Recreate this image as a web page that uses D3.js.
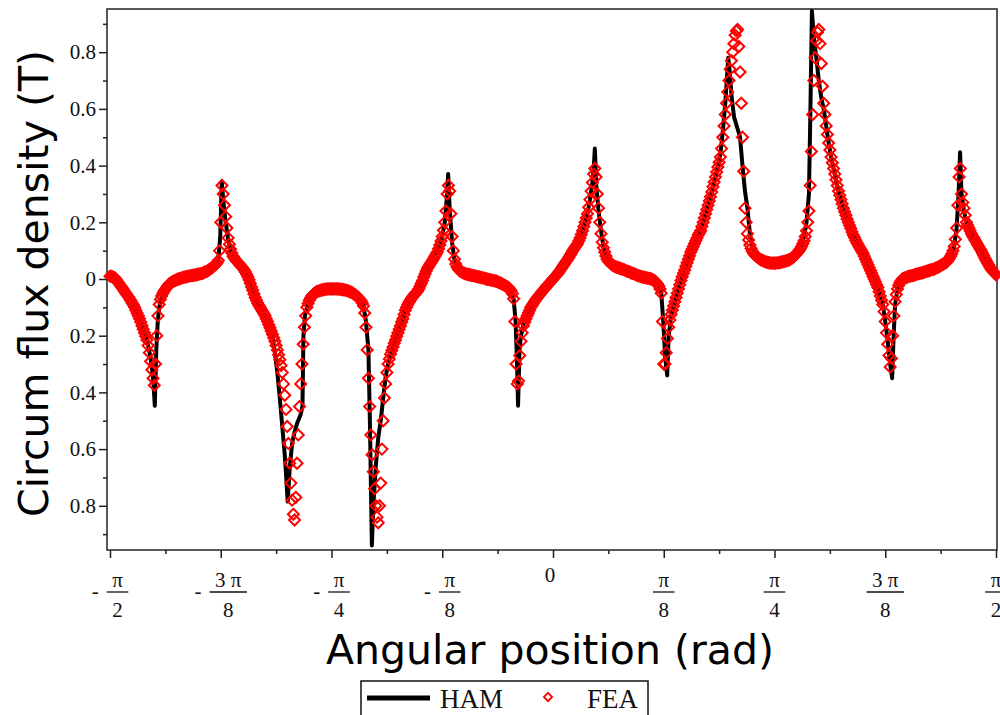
<!DOCTYPE html>
<html lang="en">
<head>
<meta charset="UTF-8">
<title>Circum flux density</title>
<script src="https://d3js.org/d3.v7.min.js"></script>
<style>
  body { margin: 0; background: #fff; }
  svg { display: block; }
</style>
</head>
<body>
<svg id="chart" width="1000" height="715"></svg>
<script>
// HAM solution, [angle in degrees, B in tesla]
const ham = [
  [-90, 0.01], [-89, 0.004], [-88, -0.02], [-87, -0.045], [-86, -0.07], [-85, -0.1], [-84, -0.14],
  [-83, -0.19], [-82.5, -0.215], [-82, -0.255], [-81.5, -0.31], [-81.2, -0.36], [-80.9, -0.447],
  [-80.6, -0.25], [-80.3, -0.15], [-80, -0.1], [-79.5, -0.065], [-79, -0.045], [-78, -0.02],
  [-77, -0.008], [-76, 0.0], [-75, 0.006], [-74, 0.01], [-73, 0.013], [-72, 0.017], [-71, 0.022],
  [-70, 0.031], [-69, 0.044], [-68.5, 0.052], [-68, 0.068], [-67.6, 0.15], [-67.3, 0.345],
  [-67, 0.28], [-66.5, 0.2], [-66, 0.14], [-65.5, 0.1], [-65, 0.08], [-64, 0.058], [-63, 0.038],
  [-62.5, 0.025], [-62, 0.008], [-61, -0.04], [-60, -0.085], [-59, -0.115], [-58, -0.15],
  [-57, -0.2], [-56.5, -0.26], [-56, -0.33], [-55.5, -0.42], [-55, -0.52], [-54.5, -0.62],
  [-54.2, -0.7], [-53.9, -0.785], [-53.5, -0.67], [-53, -0.58], [-52.5, -0.54], [-52, -0.51],
  [-51.3, -0.48], [-50.9, -0.45], [-50.7, -0.2], [-50.4, -0.13], [-50, -0.1], [-49.5, -0.075],
  [-49, -0.06], [-48, -0.045], [-47, -0.039], [-46, -0.036], [-45, -0.035], [-44, -0.035],
  [-43, -0.037], [-42, -0.04], [-41, -0.047], [-40, -0.058], [-39, -0.077], [-38.5, -0.095],
  [-38, -0.15], [-37.5, -0.25], [-37.2, -0.5], [-36.8, -0.94], [-36.5, -0.8], [-36, -0.66],
  [-35.5, -0.56], [-35, -0.5], [-34.5, -0.42], [-34, -0.345], [-33.5, -0.3], [-33, -0.265],
  [-32, -0.215], [-31, -0.165], [-30, -0.11], [-29, -0.075], [-28, -0.052], [-27.5, -0.042],
  [-27, -0.025], [-26, 0.018], [-25, 0.052], [-24, 0.08], [-23, 0.12], [-22.5, 0.15], [-22, 0.2],
  [-21.6, 0.28], [-21.3, 0.37], [-21, 0.25], [-20.5, 0.13], [-20, 0.065], [-19.5, 0.04],
  [-19, 0.028], [-18, 0.02], [-17, 0.015], [-16, 0.011], [-15, 0.007], [-14, 0.003], [-13, -0.002],
  [-12, -0.006], [-11, -0.012], [-10, -0.021], [-9, -0.031], [-8.5, -0.042], [-8, -0.07],
  [-7.6, -0.15], [-7.3, -0.3], [-7.1, -0.447], [-6.8, -0.25], [-6.5, -0.2], [-6, -0.16],
  [-5.5, -0.14], [-5, -0.12], [-4, -0.086], [-3, -0.062], [-2, -0.04], [-1, -0.02], [0, 0.0],
  [1, 0.02], [2, 0.045], [3, 0.07], [4, 0.1], [5, 0.125], [6, 0.17], [7, 0.23], [7.5, 0.28],
  [8, 0.34], [8.3, 0.4], [8.5, 0.46], [8.8, 0.33], [9.2, 0.25], [9.6, 0.19], [10, 0.14],
  [10.5, 0.1], [11, 0.07], [12, 0.05], [13, 0.041], [14, 0.035], [15, 0.028], [16, 0.021],
  [17, 0.014], [18, 0.008], [19, 0.004], [20, 0.0], [21, -0.012], [21.5, -0.025], [22, -0.05],
  [22.4, -0.15], [22.8, -0.28], [23.2, -0.34], [23.5, -0.2], [24, -0.13], [24.5, -0.095],
  [25, -0.065], [26, -0.005], [27, 0.045], [28, 0.095], [29, 0.135], [30, 0.17], [31, 0.23],
  [32, 0.29], [33, 0.36], [34, 0.44], [34.5, 0.52], [35, 0.62], [35.3, 0.7], [35.6, 0.78],
  [35.9, 0.73], [36.3, 0.64], [36.8, 0.57], [37.5, 0.53], [38, 0.5], [38.5, 0.4], [39, 0.31],
  [39.5, 0.25], [40, 0.16], [40.5, 0.115], [41, 0.09], [42, 0.07], [43, 0.06], [44, 0.055],
  [45, 0.053], [46, 0.055], [47, 0.06], [48, 0.065], [49, 0.08], [50, 0.1], [50.5, 0.12],
  [51, 0.15], [51.5, 0.2], [52, 0.3], [52.3, 0.6], [52.6, 0.945], [53, 0.85], [53.5, 0.78],
  [54, 0.7], [54.5, 0.64], [55, 0.6], [55.5, 0.54], [56, 0.48], [56.5, 0.43], [57, 0.39],
  [58, 0.31], [59, 0.25], [60, 0.2], [61, 0.155], [62, 0.12], [63, 0.09], [64, 0.05], [65, 0.01],
  [66, -0.03], [67, -0.09], [67.5, -0.15], [68, -0.22], [68.5, -0.3], [68.9, -0.35], [69.2, -0.2],
  [69.5, -0.09], [70, -0.035], [71, 0.0], [72, 0.007], [73, 0.012], [74, 0.018], [75, 0.022],
  [76, 0.028], [77, 0.033], [78, 0.04], [79, 0.05], [80, 0.06], [81, 0.088], [81.5, 0.115],
  [82, 0.18], [82.4, 0.3], [82.7, 0.447], [83, 0.3], [83.5, 0.24], [84, 0.2], [85, 0.16],
  [86, 0.13], [87, 0.1], [88, 0.065], [89, 0.035], [90, 0.015]
];

// FEA samples, one every quarter degree starting at -90 deg (each row covers 2.5 deg)
const feaStart = -90, feaStep = 0.25;
const fea = [
  /* -90.0 */ 0.01, 0.009, 0.008, 0.006, 0.004, -0.002, -0.008, -0.014, -0.02, -0.026,
  /* -87.5 */ -0.032, -0.038, -0.045, -0.051, -0.057, -0.063, -0.07, -0.077, -0.085, -0.092,
  /* -85.0 */ -0.1, -0.11, -0.12, -0.13, -0.14, -0.152, -0.165, -0.177, -0.19, -0.202,
  /* -82.5 */ -0.215, -0.235, -0.26, -0.29, -0.32, -0.35, -0.375, -0.3, -0.2, -0.13,
  /* -80.0 */ -0.09, -0.072, -0.06, -0.05, -0.042, -0.036, -0.03, -0.024, -0.018, -0.015,
  /* -77.5 */ -0.012, -0.009, -0.007, -0.005, -0.003, -0.001, 0.0, 0.002, 0.003, 0.005,
  /* -75.0 */ 0.006, 0.007, 0.008, 0.009, 0.01, 0.011, 0.012, 0.0125, 0.013, 0.014,
  /* -72.5 */ 0.015, 0.016, 0.017, 0.018, 0.019, 0.02, 0.022, 0.024, 0.026, 0.028,
  /* -70.0 */ 0.031, 0.034, 0.037, 0.04, 0.044, 0.048, 0.052, 0.057, 0.065, 0.1,
  /* -67.5 */ 0.2, 0.33, 0.3, 0.26, 0.22, 0.18, 0.145, 0.123, 0.105, 0.092,
  /* -65.0 */ 0.08, 0.074, 0.068, 0.063, 0.058, 0.053, 0.048, 0.043, 0.038, 0.032,
  /* -62.5 */ 0.025, 0.017, 0.008, -0.003, -0.015, -0.028, -0.04, -0.053, -0.065, -0.075,
  /* -60.0 */ -0.085, -0.093, -0.1, -0.108, -0.115, -0.122, -0.13, -0.14, -0.15, -0.161,
  /* -57.5 */ -0.172, -0.183, -0.195, -0.207, -0.22, -0.235, -0.25, -0.267, -0.285, -0.305,
  /* -55.0 */ -0.33, -0.37, -0.41, -0.46, -0.52, -0.58, -0.65, -0.72, -0.78, -0.83,
  /* -52.5 */ -0.85, -0.77, -0.65, -0.55, -0.45, -0.37, -0.3, -0.23, -0.17, -0.13,
  /* -50.0 */ -0.1, -0.086, -0.075, -0.067, -0.06, -0.055, -0.051, -0.048, -0.045, -0.043,
  /* -47.5 */ -0.042, -0.04, -0.039, -0.038, -0.037, -0.036, -0.036, -0.035, -0.035, -0.035,
  /* -45.0 */ -0.035, -0.035, -0.035, -0.035, -0.035, -0.035, -0.036, -0.036, -0.037, -0.037,
  /* -42.5 */ -0.038, -0.039, -0.04, -0.041, -0.043, -0.045, -0.047, -0.049, -0.052, -0.055,
  /* -40.0 */ -0.058, -0.062, -0.066, -0.071, -0.077, -0.085, -0.095, -0.12, -0.17, -0.25,
  /* -37.5 */ -0.35, -0.45, -0.55, -0.62, -0.68, -0.74, -0.8, -0.84, -0.86, -0.8,
  /* -35.0 */ -0.72, -0.6, -0.5, -0.42, -0.37, -0.33, -0.3, -0.282, -0.265, -0.252,
  /* -32.5 */ -0.24, -0.227, -0.215, -0.202, -0.19, -0.177, -0.165, -0.152, -0.14, -0.125,
  /* -30.0 */ -0.11, -0.1, -0.09, -0.082, -0.075, -0.068, -0.062, -0.057, -0.052, -0.047,
  /* -27.5 */ -0.042, -0.034, -0.025, -0.015, -0.005, 0.007, 0.018, 0.028, 0.038, 0.045,
  /* -25.0 */ 0.052, 0.058, 0.065, 0.072, 0.08, 0.087, 0.095, 0.107, 0.12, 0.134,
  /* -22.5 */ 0.15, 0.172, 0.2, 0.24, 0.3, 0.33, 0.31, 0.23, 0.15, 0.1,
  /* -20.0 */ 0.07, 0.053, 0.042, 0.035, 0.03, 0.027, 0.024, 0.022, 0.02, 0.018,
  /* -17.5 */ 0.017, 0.016, 0.015, 0.014, 0.013, 0.012, 0.011, 0.01, 0.009, 0.008,
  /* -15.0 */ 0.007, 0.006, 0.005, 0.004, 0.003, 0.001, 0.0, -0.001, -0.002, -0.003,
  /* -12.5 */ -0.004, -0.005, -0.006, -0.007, -0.008, -0.01, -0.012, -0.014, -0.016, -0.018,
  /* -10.0 */ -0.021, -0.023, -0.026, -0.028, -0.031, -0.036, -0.042, -0.052, -0.07, -0.15,
  /*  -7.5 */ -0.3, -0.37, -0.36, -0.27, -0.22, -0.19, -0.165, -0.152, -0.14, -0.13,
  /*  -5.0 */ -0.12, -0.11, -0.1, -0.093, -0.086, -0.079, -0.073, -0.067, -0.062, -0.056,
  /*  -2.5 */ -0.051, -0.045, -0.04, -0.035, -0.03, -0.025, -0.02, -0.015, -0.01, -0.005,
  /*   0.0 */ 0.0, 0.005, 0.01, 0.015, 0.02, 0.026, 0.032, 0.038, 0.045, 0.051,
  /*   2.5 */ 0.058, 0.064, 0.07, 0.077, 0.085, 0.092, 0.1, 0.106, 0.112, 0.118,
  /*   5.0 */ 0.125, 0.135, 0.145, 0.157, 0.17, 0.185, 0.2, 0.215, 0.23, 0.253,
  /*   7.5 */ 0.28, 0.31, 0.34, 0.37, 0.39, 0.36, 0.3, 0.25, 0.2, 0.16,
  /*  10.0 */ 0.13, 0.11, 0.095, 0.081, 0.07, 0.063, 0.058, 0.054, 0.05, 0.047,
  /*  12.5 */ 0.045, 0.043, 0.041, 0.04, 0.038, 0.037, 0.035, 0.034, 0.032, 0.03,
  /*  15.0 */ 0.028, 0.027, 0.025, 0.023, 0.021, 0.02, 0.018, 0.016, 0.014, 0.012,
  /*  17.5 */ 0.011, 0.009, 0.008, 0.007, 0.006, 0.005, 0.004, 0.003, 0.002, 0.001,
  /*  20.0 */ 0.0, -0.002, -0.005, -0.008, -0.012, -0.018, -0.025, -0.035, -0.05, -0.15,
  /*  22.5 */ -0.3, -0.3, -0.26, -0.21, -0.17, -0.145, -0.125, -0.11, -0.095, -0.08,
  /*  25.0 */ -0.065, -0.05, -0.035, -0.02, -0.005, 0.008, 0.02, 0.032, 0.045, 0.057,
  /*  27.5 */ 0.07, 0.082, 0.095, 0.105, 0.115, 0.125, 0.135, 0.145, 0.155, 0.162,
  /*  30.0 */ 0.17, 0.185, 0.2, 0.215, 0.23, 0.245, 0.26, 0.275, 0.29, 0.307,
  /*  32.5 */ 0.325, 0.342, 0.36, 0.377, 0.395, 0.412, 0.43, 0.46, 0.5, 0.54,
  /*  35.0 */ 0.58, 0.62, 0.66, 0.7, 0.74, 0.77, 0.8, 0.83, 0.86, 0.875,
  /*  37.5 */ 0.88, 0.82, 0.73, 0.62, 0.5, 0.38, 0.25, 0.2, 0.16, 0.138,
  /*  40.0 */ 0.12, 0.108, 0.098, 0.091, 0.085, 0.081, 0.077, 0.074, 0.071, 0.068,
  /*  42.5 */ 0.066, 0.064, 0.062, 0.06, 0.059, 0.058, 0.057, 0.056, 0.056, 0.056,
  /*  45.0 */ 0.056, 0.056, 0.057, 0.057, 0.058, 0.059, 0.06, 0.061, 0.062, 0.063,
  /*  47.5 */ 0.065, 0.066, 0.068, 0.07, 0.073, 0.076, 0.08, 0.085, 0.09, 0.095,
  /*  50.0 */ 0.1, 0.107, 0.115, 0.124, 0.135, 0.15, 0.17, 0.2, 0.24, 0.33,
  /*  52.5 */ 0.45, 0.58, 0.7, 0.78, 0.84, 0.87, 0.88, 0.83, 0.76, 0.68,
  /*  55.0 */ 0.62, 0.58, 0.54, 0.51, 0.48, 0.455, 0.43, 0.41, 0.39, 0.37,
  /*  57.5 */ 0.35, 0.33, 0.31, 0.295, 0.28, 0.265, 0.25, 0.237, 0.225, 0.212,
  /*  60.0 */ 0.2, 0.189, 0.178, 0.166, 0.155, 0.146, 0.137, 0.128, 0.12, 0.112,
  /*  62.5 */ 0.105, 0.098, 0.09, 0.08, 0.07, 0.06, 0.05, 0.04, 0.03, 0.02,
  /*  65.0 */ 0.01, 0.0, -0.01, -0.02, -0.03, -0.045, -0.06, -0.075, -0.09, -0.115,
  /*  67.5 */ -0.15, -0.19, -0.23, -0.27, -0.31, -0.28, -0.2, -0.13, -0.08, -0.055,
  /*  70.0 */ -0.035, -0.022, -0.012, -0.005, 0.0, 0.002, 0.004, 0.006, 0.007, 0.009,
  /*  72.5 */ 0.01, 0.011, 0.012, 0.013, 0.015, 0.016, 0.018, 0.019, 0.02, 0.021,
  /*  75.0 */ 0.022, 0.023, 0.025, 0.026, 0.028, 0.029, 0.03, 0.032, 0.033, 0.034,
  /*  77.5 */ 0.036, 0.038, 0.04, 0.042, 0.044, 0.047, 0.05, 0.052, 0.055, 0.057,
  /*  80.0 */ 0.06, 0.066, 0.072, 0.08, 0.088, 0.1, 0.115, 0.14, 0.18, 0.26,
  /*  82.5 */ 0.36, 0.39, 0.3, 0.27, 0.25, 0.225, 0.2, 0.19, 0.18, 0.17,
  /*  85.0 */ 0.16, 0.152, 0.145, 0.137, 0.13, 0.122, 0.115, 0.107, 0.1, 0.091,
  /*  87.5 */ 0.082, 0.073, 0.065, 0.057, 0.05, 0.042, 0.035, 0.03, 0.025, 0.02,
  /*  90.0 */ 0.015
];

const yMajor = [-0.8, -0.6, -0.4, -0.2, 0, 0.2, 0.4, 0.6, 0.8];
const yMinor = [-0.9, -0.7, -0.5, -0.3, -0.1, 0.1, 0.3, 0.5, 0.7, 0.9];
// x ticks in multiples of pi/8
const xMajorK = [-4, -3, -2, -1, 0, 1, 2, 3, 4];
const xMinorK = [-3.5, -2.5, -1.5, -0.5, 0.5, 1.5, 2.5, 3.5];
const xTickNum = ["π", "3 π", "π", "π", "0", "π", "π", "3 π", "π"];
const xTickDen = ["2", "8", "4", "8", "", "8", "4", "8", "2"];

const seriesNames = ["HAM", "FEA"];

const svg = d3.select("#chart");
const plotLeft = 107, plotRight = 997, plotTop = 9, plotBottom = 550;
const serif = "'Liberation Serif', 'Times New Roman', serif";
const sans = "'DejaVu Sans', Verdana, sans-serif";

const x = d3.scaleLinear().domain([-Math.PI / 2, Math.PI / 2]).range([110, 996]);
const y = d3.scaleLinear().domain([-0.8, 0.8]).range([505.8, 52.2]);
const rad = d => d * Math.PI / 180;

// y axis
const yAx = svg.append("g").attr("transform", `translate(${plotLeft},0)`)
  .call(d3.axisLeft(y).tickValues(yMajor).tickSize(8).tickSizeOuter(0)
    .tickFormat(d => d === 0 ? "0" : Math.abs(d).toFixed(1)));
svg.append("g").attr("transform", `translate(${plotLeft},0)`)
  .call(d3.axisLeft(y).tickValues(yMinor).tickSize(4).tickFormat(""));

// x axis
svg.append("g").attr("transform", `translate(0,${plotBottom})`)
  .call(d3.axisBottom(x).tickValues(xMajorK.map(k => k * Math.PI / 8)).tickSize(8).tickFormat(""));
svg.append("g").attr("transform", `translate(0,${plotBottom})`)
  .call(d3.axisBottom(x).tickValues(xMinorK.map(k => k * Math.PI / 8)).tickSize(4).tickFormat(""));

svg.selectAll(".domain").remove();
svg.selectAll(".tick line").attr("stroke", "#222").attr("stroke-width", 1.5);
yAx.selectAll(".tick text")
  .attr("x", -11)
  .style("font-family", serif).style("font-size", "21px").attr("fill", "#111");

// fraction labels for the x ticks
xMajorK.forEach((k, i) => {
  const g = svg.append("g")
    .attr("transform", `translate(${x(k * Math.PI / 8)},0)`)
    .style("font-family", serif).style("font-size", "21px").attr("fill", "#111");
  if (xTickDen[i] === "") {
    g.append("text").attr("x", -3).attr("y", 582).attr("text-anchor", "middle").text(xTickNum[i]);
    return;
  }
  const num = g.append("text").attr("y", 587).attr("text-anchor", "middle").text(xTickNum[i]);
  const den = g.append("text").attr("y", 617).attr("text-anchor", "middle").text(xTickDen[i]);
  const w = Math.max(num.node().getComputedTextLength(), den.node().getComputedTextLength()) + 11;
  const neg = k < 0;
  const total = neg ? w + 15 : w;
  const start = -total / 2;
  const fc = start + (neg ? 15 : 0) + w / 2;
  num.attr("x", fc);
  den.attr("x", fc);
  g.append("line").attr("x1", fc - w / 2).attr("x2", fc + w / 2)
    .attr("y1", 592).attr("y2", 592).attr("stroke", "#111").attr("stroke-width", 1.3);
  if (neg) g.append("text").attr("x", start + 3.5).attr("y", 598).attr("text-anchor", "middle").text("-");
});

// plot frame
svg.append("rect")
  .attr("x", plotLeft).attr("y", plotTop)
  .attr("width", plotRight - plotLeft).attr("height", plotBottom - plotTop)
  .attr("fill", "none").attr("stroke", "#222").attr("stroke-width", 1.5);

// HAM line
svg.append("path")
  .datum(ham)
  .attr("fill", "none")
  .attr("stroke", "#000")
  .attr("stroke-width", 4)
  .attr("stroke-linejoin", "round")
  .attr("d", d3.line().x(d => x(rad(d[0]))).y(d => y(d[1])));

// FEA diamonds
const diamond = "M0,-5.5L5.5,0L0,5.5L-5.5,0Z";
svg.append("g").selectAll("path")
  .data(fea)
  .join("path")
  .attr("d", diamond)
  .attr("transform", (d, i) => `translate(${x(rad(feaStart + i * feaStep))},${y(d)})`)
  .attr("fill", "none")
  .attr("stroke", "#ff0000")
  .attr("stroke-width", 2);

// axis titles
svg.append("text")
  .attr("x", 550).attr("y", 664).attr("text-anchor", "middle")
  .style("font-family", sans).style("font-size", "41px").attr("fill", "#000")
  .text("Angular position (rad)");
svg.append("text")
  .attr("transform", "translate(48,283.5) rotate(-90)").attr("text-anchor", "middle")
  .style("font-family", sans).style("font-size", "41px").attr("fill", "#000")
  .text("Circum flux density (T)");

// legend
const lg = svg.append("g");
lg.append("rect").attr("x", 361).attr("y", 681).attr("width", 287).attr("height", 50)
  .attr("fill", "#fff").attr("stroke", "#111").attr("stroke-width", 1.5);
lg.append("line").attr("x1", 367).attr("x2", 430).attr("y1", 698).attr("y2", 698)
  .attr("stroke", "#000").attr("stroke-width", 5);
lg.append("path").attr("d", diamond).attr("transform", "translate(548,697) scale(0.75)")
  .attr("fill", "none").attr("stroke", "#ff0000").attr("stroke-width", 2.4);
lg.selectAll("text.lab")
  .data(seriesNames)
  .join("text")
  .attr("class", "lab")
  .attr("x", (d, i) => i === 0 ? 440 : 587)
  .attr("y", 708)
  .style("font-family", serif).style("font-size", "27px").attr("fill", "#111")
  .text(d => d);
</script>
</body>
</html>
